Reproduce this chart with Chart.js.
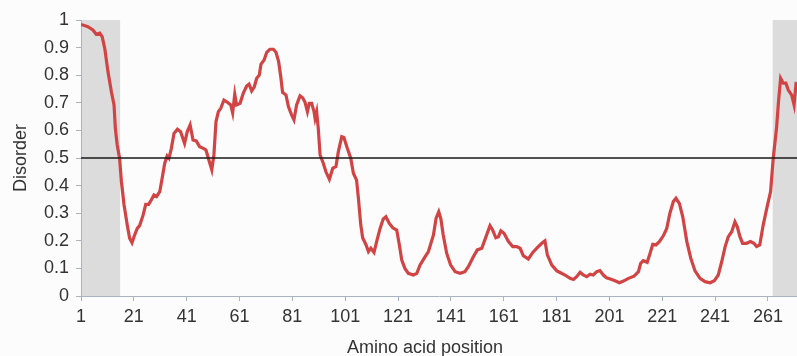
<!DOCTYPE html>
<html>
<head>
<meta charset="utf-8">
<title>Disorder profile</title>
<script src="https://cdn.jsdelivr.net/npm/chart.js@4.4.1/dist/chart.umd.min.js"></script>
<style>
  html, body { margin: 0; padding: 0; background: #fcfcfd; }
  #wrap { width: 797px; height: 356px; position: relative; }
</style>
</head>
<body>
<div id="wrap"><canvas id="c" width="797" height="356"></canvas></div>
<script>
// Predicted disorder score along the sequence
const positions = [
  1, 3.6, 5.5, 6.8, 8.1, 9, 10, 11.2, 12.5, 13.5, 14, 14.7, 15.6, 16.3, 17.3, 18.5, 19.4, 20.3,
  21.3, 22.3, 23.2, 24.5, 25.5, 26.6, 27.6, 28.6, 29.6, 30.8, 31.7, 32.7, 33.6, 34.3, 35.2, 36.2,
  37.5, 38.7, 40.2, 41.2, 42.3, 43.4, 44.6, 45.9, 47.3, 48.3, 49.2, 50.5, 51.3, 52.1, 53, 53.9,
  55.1, 56.4, 57.7, 58.4, 59.2, 59.9, 61.2, 62.4, 63.7, 64.6, 65.6, 66.6, 67.5, 68.5, 69.1, 70.3,
  71.3, 72.5, 73.8, 74.8, 75.8, 76.6, 77.3, 78.6, 79.5, 80.7, 81.6, 82.6, 83.9, 84.9, 85.8, 86.7,
  87.4, 88.3, 89.2, 89.6, 90.2, 90.8, 91.5, 92.7, 93.7, 95, 96.3, 97.5, 98.4, 99.7, 100.5, 101.8,
  103.1, 104.1, 105.3, 106, 106.9, 107.6, 108.9, 109.8, 110.7, 111.9, 112.9, 114.2, 115.4, 116.4,
  117.7, 119, 120.5, 121.5, 122.4, 123.6, 124.9, 126.8, 128.1, 129.3, 131.2, 132.5, 134.4, 135.4,
  136.4, 137.2, 138.1, 139.4, 140.9, 142.6, 144.5, 146.3, 147.6, 149.5, 151, 152.7, 154.3, 155.8,
  156.8, 158, 159, 159.9, 161.1, 162.8, 164.4, 165.9, 167.2, 168.4, 170.3, 172, 173.7, 175.4,
  176.6, 177.5, 179.2, 181.1, 182.3, 184.2, 186.1, 187.4, 188.6, 189.9, 191.1, 192.4, 193.7, 194.9,
  196.2, 197.4, 198.7, 199.9, 201.9, 203.1, 204.8, 206.3, 208.2, 210.3, 212, 212.8, 213.8, 215.3,
  216.4, 217.4, 218.6, 219.9, 221.4, 222.7, 223.9, 225.2, 226.2, 227.5, 228.8, 230.3, 231.8, 233.4,
  235.3, 237.2, 239.1, 240.7, 242.2, 243.5, 244.8, 246, 247.3, 248.5, 249.4, 250.4, 251.4, 252.9,
  254.4, 255.7, 256.7, 257.9, 259.2, 260.7, 262, 263, 264.3, 265, 265.8, 266.8, 267.8, 268.7,
  270, 270.9, 271.7
];
const disorder = [
  0.984, 0.976, 0.964, 0.948, 0.952, 0.94, 0.897, 0.813, 0.74, 0.692, 0.607, 0.547, 0.499, 0.414, 0.33, 0.257, 0.209, 0.193,
  0.221, 0.245, 0.255, 0.293, 0.332, 0.332, 0.348, 0.366, 0.36, 0.378, 0.426, 0.481, 0.507, 0.499, 0.535, 0.589,
  0.604, 0.595, 0.553, 0.595, 0.62, 0.565, 0.562, 0.541, 0.535, 0.529, 0.499, 0.457, 0.511, 0.632, 0.668, 0.68,
  0.71, 0.702, 0.692, 0.664, 0.731, 0.692, 0.698, 0.734, 0.761, 0.768, 0.743, 0.758, 0.789, 0.801, 0.839, 0.855,
  0.883, 0.894, 0.894, 0.883, 0.849, 0.795, 0.738, 0.728, 0.686, 0.656, 0.638, 0.692, 0.725, 0.718, 0.702, 0.668,
  0.698, 0.698, 0.668, 0.644, 0.668, 0.607, 0.511, 0.481, 0.45, 0.423, 0.463, 0.469, 0.523, 0.577, 0.574, 0.535,
  0.499, 0.445, 0.42, 0.354, 0.257, 0.211, 0.185, 0.161, 0.173, 0.158, 0.197, 0.245, 0.279, 0.287,
  0.263, 0.247, 0.239, 0.185, 0.13, 0.1, 0.082, 0.076, 0.082, 0.112, 0.142, 0.161, 0.221, 0.282,
  0.305, 0.28, 0.221, 0.155, 0.112, 0.088, 0.082, 0.088, 0.106, 0.142, 0.167, 0.173, 0.215, 0.255,
  0.239, 0.211, 0.215, 0.236, 0.227, 0.197, 0.179, 0.179, 0.173, 0.146, 0.134, 0.158, 0.175, 0.191,
  0.2, 0.149, 0.112, 0.091, 0.085, 0.076, 0.064, 0.06, 0.07, 0.086, 0.076, 0.07, 0.079, 0.076,
  0.088, 0.092, 0.076, 0.066, 0.06, 0.055, 0.048, 0.054, 0.064, 0.072, 0.088, 0.118, 0.128, 0.122,
  0.155, 0.187, 0.185, 0.197, 0.218, 0.245, 0.3, 0.342, 0.354, 0.335, 0.285, 0.197, 0.137, 0.091,
  0.064, 0.052, 0.048, 0.055, 0.076, 0.124, 0.179, 0.215, 0.233, 0.269, 0.251, 0.215, 0.191, 0.191,
  0.197, 0.191, 0.179, 0.185, 0.257, 0.324, 0.378, 0.499, 0.613, 0.704, 0.789, 0.771, 0.771, 0.746,
  0.728, 0.692, 0.776
];

// Disorder cut-off
const threshold = 0.5;

// Axis range and tick labels
const positionRange = [1, 272];
const xTickLabels = ['1', '21', '41', '61', '81', '101', '121', '141', '161', '181', '201', '221', '241', '261'];
const yTickLabels = ['0', '0.1', '0.2', '0.3', '0.4', '0.5', '0.6', '0.7', '0.8', '0.9', '1'];
const xTitle = 'Amino acid position';
const yTitle = 'Disorder';

// Terminal segments shaded as disordered regions
const shadedStart = [1, 15.8];
const shadedEnd = [262.8, 272];

const xTickValues = xTickLabels.map(Number);
const yTickValues = yTickLabels.map(Number);

const AXIS_COLOR = '#aab3c0';
const TEXT_COLOR = '#333333';
const FONT = "'Liberation Sans', Arial, sans-serif";
Chart.defaults.font.family = FONT;
Chart.defaults.color = TEXT_COLOR;

const shading = {
  id: 'shading',
  beforeDraw(chart) {
    const { ctx, scales: { x, y } } = chart;
    ctx.save();
    ctx.fillStyle = '#fcfcfd';
    ctx.fillRect(0, 0, chart.width, chart.height);
    ctx.fillStyle = '#dcdcdc';
    const yTop = y.getPixelForValue(1);
    const yBot = y.getPixelForValue(0);
    [shadedStart, shadedEnd].forEach(([a, b]) => {
      const x0 = x.getPixelForValue(a);
      const x1 = x.getPixelForValue(b);
      ctx.fillRect(x0, yTop, x1 - x0, yBot - yTop);
    });
    ctx.restore();
  }
};

// x-axis title sits a little left of the plot centre, near the bottom edge
const xAxisTitle = {
  id: 'xAxisTitle',
  afterDraw(chart) {
    const { ctx } = chart;
    ctx.save();
    ctx.font = '18px ' + FONT;
    ctx.fillStyle = TEXT_COLOR;
    ctx.textAlign = 'center';
    ctx.textBaseline = 'alphabetic';
    ctx.fillText(xTitle, 425, 353);
    ctx.restore();
  }
};

new Chart(document.getElementById('c'), {
  type: 'line',
  data: {
    datasets: [
      {
        label: 'Disorder',
        data: positions.map((p, i) => ({ x: p, y: disorder[i] })),
        borderColor: '#d24444',
        borderWidth: 3.2,
        pointRadius: 0,
        tension: 0,
        fill: false,
        order: 1
      },
      {
        label: 'Threshold',
        data: [{ x: positionRange[0], y: threshold }, { x: positionRange[1], y: threshold }],
        borderColor: '#1a1a1a',
        borderWidth: 1.5,
        pointRadius: 0,
        fill: false,
        order: 0
      }
    ]
  },
  options: {
    responsive: false,
    animation: false,
    layout: { padding: { top: 20, right: 0, bottom: 0, left: 0 } },
    plugins: { legend: { display: false }, tooltip: { enabled: false } },
    scales: {
      x: {
        type: 'linear',
        min: positionRange[0],
        max: positionRange[1],
        afterBuildTicks: s => { s.ticks = xTickValues.map(v => ({ value: v })); },
        afterFit: s => { s.height = 60; },
        ticks: {
          autoSkip: false,
          maxRotation: 0,
          padding: 5,
          color: TEXT_COLOR,
          font: { size: 18 },
          callback: (v, i) => xTickLabels[i]
        },
        grid: { drawOnChartArea: false, drawTicks: true, tickLength: 5, color: AXIS_COLOR },
        border: { display: true, color: AXIS_COLOR, width: 1 },
        title: { display: false }
      },
      y: {
        type: 'linear',
        min: 0,
        max: 1,
        afterBuildTicks: s => { s.ticks = yTickValues.map(v => ({ value: v })); },
        afterFit: s => { s.width = 81; },
        ticks: {
          padding: 7,
          color: TEXT_COLOR,
          font: { size: 18 },
          callback: (v, i) => yTickLabels[i]
        },
        grid: { drawOnChartArea: false, drawTicks: true, tickLength: 5, color: AXIS_COLOR },
        border: { display: true, color: AXIS_COLOR, width: 1 },
        title: {
          display: true,
          text: yTitle,
          color: TEXT_COLOR,
          font: { size: 18 },
          padding: { top: 10, bottom: 0 }
        }
      }
    }
  },
  plugins: [shading, xAxisTitle]
});
</script>
</body>
</html>
